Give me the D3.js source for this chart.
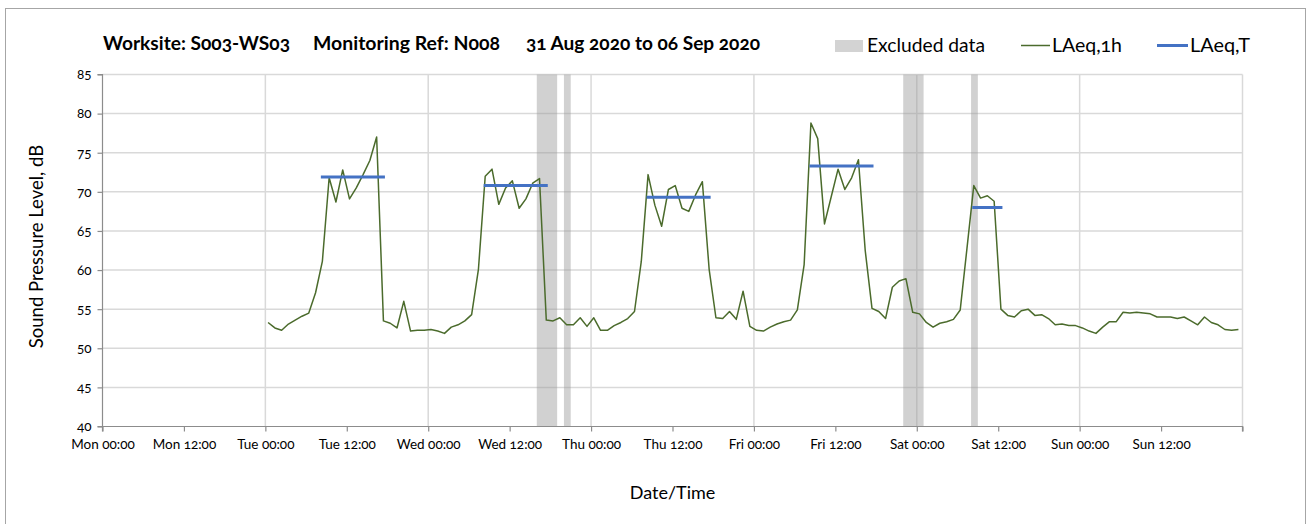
<!DOCTYPE html>
<html>
<head>
<meta charset="utf-8">
<script src="https://cdn.jsdelivr.net/npm/d3@7/dist/d3.min.js"></script>
<style>
  html, body { margin: 0; padding: 0; background: #fff; }
  svg { display: block; }
  text { font-family: Lato, "Open Sans", sans-serif; font-feature-settings: "onum" 1; font-variant-numeric: oldstyle-nums; fill: #000; }
</style>
</head>
<body>
<svg id="chart" width="1314" height="524"></svg>
<script>
// ---------------- DATA ----------------
// Hours counted from Mon 31 Aug 2020 00:00
const lineFirstHour = 24; // first LAeq,1h sample: Tue 00:00
const laeq1h = [
  53.3, 52.6, 52.3, 53.1, 53.6, 54.1, 54.5, 57.1, 61.1,
  71.8, 68.7, 72.8, 69.1, 70.5, 72.2, 74.0, 77.0,
  53.5, 53.2, 52.6, 56.0, 52.2, 52.3, 52.3, 52.4,
  52.2, 51.9, 52.7, 53.0, 53.5, 54.3, 60.1,
  72.0, 72.9, 68.4, 70.5, 71.4, 67.9, 69.1, 71.1, 71.7,
  53.6, 53.5, 53.9, 53.0, 53.0, 53.9, 52.8, 53.9, 52.3, 52.3, 52.9, 53.3, 53.8, 54.7,
  61.1, 72.2, 68.3, 65.6, 70.3, 70.8, 67.9, 67.5, 69.6, 71.3,
  60.1, 53.9, 53.8, 54.7, 53.7, 57.3, 52.8, 52.3, 52.2, 52.7, 53.1, 53.4, 53.6, 54.9, 60.7,
  78.8, 76.8, 65.9, 69.4, 72.9, 70.3, 71.8, 74.1, 62.5,
  55.1, 54.7, 53.8, 57.8, 58.6, 58.9, 54.6, 54.4, 53.3, 52.7, 53.2, 53.4, 53.7, 54.9, 62.8,
  70.8, 69.2, 69.5, 68.8,
  55.0, 54.2, 54.0, 54.8, 55.0, 54.2, 54.3, 53.8, 53.0, 53.1, 52.9, 52.9,
  52.6, 52.2, 51.9, 52.7, 53.4, 53.4, 54.6, 54.5, 54.6, 54.5, 54.4, 54.0,
  54.0, 54.0, 53.8, 54.0, 53.5, 53.0, 54.0, 53.3, 53.0, 52.4, 52.3, 52.4
];
const laeqTStart = [32, 56, 80, 104, 128];
const laeqTEnd   = [41, 65, 89, 113, 132];
const laeqTValue = [71.9, 70.8, 69.3, 73.3, 68.0];
const excludedStart = [64, 68, 118, 128];
const excludedEnd   = [67, 69, 121, 129];
const yTickValues = [40, 45, 50, 55, 60, 65, 70, 75, 80, 85];
const xTickLabels = ["Mon 00:00", "Mon 12:00", "Tue 00:00", "Tue 12:00", "Wed 00:00", "Wed 12:00",
                     "Thu 00:00", "Thu 12:00", "Fri 00:00", "Fri 12:00", "Sat 00:00", "Sat 12:00",
                     "Sun 00:00", "Sun 12:00", ""];
const titleParts = ["Worksite: S003-WS03", "Monitoring Ref: N008", "31 Aug 2020 to 06 Sep 2020"];
const legendLabels = ["Excluded data", "LAeq,1h", "LAeq,T"];

// ---------------- LAYOUT ----------------
const svg = d3.select("#chart");
const plot = { left: 102.5, right: 1242.5, top: 74.5, bottom: 426.5 };
const pointOffset = 0.4; // samples drawn slightly after the hour mark
const x = d3.scaleLinear().domain([0, 168]).range([plot.left, plot.right]);
const y = d3.scaleLinear().domain([40, 85]).range([plot.bottom, plot.top]);

const gridColor = "#d9d9d9";
const axisColor = "#8c8c8c";
const green = "#4b6b2c";
const blue = "#4472c4";

// outer border
svg.append("rect").attr("x", 5.5).attr("y", 8.5).attr("width", 1300).attr("height", 530)
  .attr("fill", "none").attr("stroke", "#a6a6a6").attr("stroke-width", 1);

// horizontal gridlines
svg.append("g").selectAll("line").data(yTickValues.filter(v => v > 40)).join("line")
  .attr("x1", plot.left).attr("x2", plot.right)
  .attr("y1", d => y(d)).attr("y2", d => y(d))
  .attr("stroke", gridColor).attr("stroke-width", 1.5);
// vertical gridlines every 24h
const dayTicks = d3.range(24, 169, 24);
svg.append("g").selectAll("line").data(dayTicks).join("line")
  .attr("x1", d => x(d)).attr("x2", d => x(d))
  .attr("y1", plot.top).attr("y2", plot.bottom)
  .attr("stroke", gridColor).attr("stroke-width", 1.5);

// excluded data shading
svg.append("g").selectAll("rect").data(excludedStart.map((s, i) => [s, excludedEnd[i]])).join("rect")
  .attr("x", d => x(d[0])).attr("width", d => x(d[1]) - x(d[0]))
  .attr("y", plot.top).attr("height", plot.bottom - plot.top)
  .attr("fill", "#9a9a9a").attr("fill-opacity", 0.45);

// axes
const yAxis = d3.axisLeft(y).tickValues(yTickValues).tickSize(5).tickPadding(6).tickFormat(d3.format("d"));
const gy = svg.append("g").attr("transform", `translate(${plot.left},0)`).call(yAxis);
const xAxis = d3.axisBottom(x).tickValues(d3.range(0, 169, 12)).tickSize(5).tickPadding(8)
  .tickFormat((d, i) => xTickLabels[i]);
const gx = svg.append("g").attr("transform", `translate(0,${plot.bottom})`).call(xAxis);
[gx, gy].forEach(g => {
  g.select(".domain").attr("stroke", axisColor).attr("stroke-width", 1.2);
  g.selectAll(".tick line").attr("stroke", axisColor).attr("stroke-width", 1.2);
  g.selectAll(".tick text").attr("font-size", 13.5).attr("fill", "#000")
    .style("font-family", "Lato, sans-serif");
});
gy.select(".domain").attr("d", `M-5,${plot.top}H0V${plot.bottom}H-5`);
gx.select(".domain").attr("d", `M${plot.left},5V0H${plot.right}V5`);
gy.selectAll(".tick text").attr("dy", "0.32em");

// LAeq,1h line
const linePts = laeq1h.map((v, i) => [lineFirstHour + i + pointOffset, v]);
svg.append("path").datum(linePts)
  .attr("d", d3.line().x(d => x(d[0])).y(d => y(d[1])))
  .attr("fill", "none").attr("stroke", green).attr("stroke-width", 1.5).attr("stroke-linejoin", "round");

// LAeq,T segments
svg.append("g").selectAll("line").data(laeqTValue.map((v, i) => ({ s: laeqTStart[i], e: laeqTEnd[i], v }))).join("line")
  .attr("x1", d => x(d.s + pointOffset)).attr("x2", d => x(d.e + pointOffset))
  .attr("y1", d => y(d.v)).attr("y2", d => y(d.v))
  .attr("stroke", blue).attr("stroke-width", 3).attr("stroke-linecap", "square");

// title
const titleX = [103, 313, 526];
const titleW = [187, 187, 234];
svg.append("g").selectAll("text").data(titleParts).join("text")
  .attr("x", (d, i) => titleX[i]).attr("y", 50)
  .attr("font-size", 19).attr("font-weight", "bold")
  .attr("textLength", (d, i) => titleW[i]).attr("lengthAdjust", "spacingAndGlyphs")
  .text(d => d);

// legend
const lg = svg.append("g");
lg.append("rect").attr("x", 835).attr("y", 40).attr("width", 28).attr("height", 12).attr("fill", "#d3d3d3");
lg.append("text").attr("x", 867).attr("y", 52).attr("font-size", 19)
  .attr("textLength", 118).attr("lengthAdjust", "spacingAndGlyphs").text(legendLabels[0]);
lg.append("line").attr("x1", 1021).attr("x2", 1050).attr("y1", 45.5).attr("y2", 45.5).attr("stroke", green).attr("stroke-width", 1.5);
lg.append("text").attr("x", 1052).attr("y", 52).attr("font-size", 19)
  .attr("textLength", 70).attr("lengthAdjust", "spacingAndGlyphs").text(legendLabels[1]);
lg.append("line").attr("x1", 1157).attr("x2", 1188).attr("y1", 45.5).attr("y2", 45.5).attr("stroke", blue).attr("stroke-width", 3);
lg.append("text").attr("x", 1190).attr("y", 52).attr("font-size", 19)
  .attr("textLength", 60).attr("lengthAdjust", "spacingAndGlyphs").text(legendLabels[2]);

// axis titles
svg.append("text").attr("transform", `translate(43,${(plot.top + plot.bottom) / 2 - 4}) rotate(-90)`)
  .attr("text-anchor", "middle").attr("font-size", 18.5).text("Sound Pressure Level, dB");
svg.append("text").attr("x", (plot.left + plot.right) / 2).attr("y", 499)
  .attr("text-anchor", "middle").attr("font-size", 18).text("Date/Time");
</script>
</body>
</html>
